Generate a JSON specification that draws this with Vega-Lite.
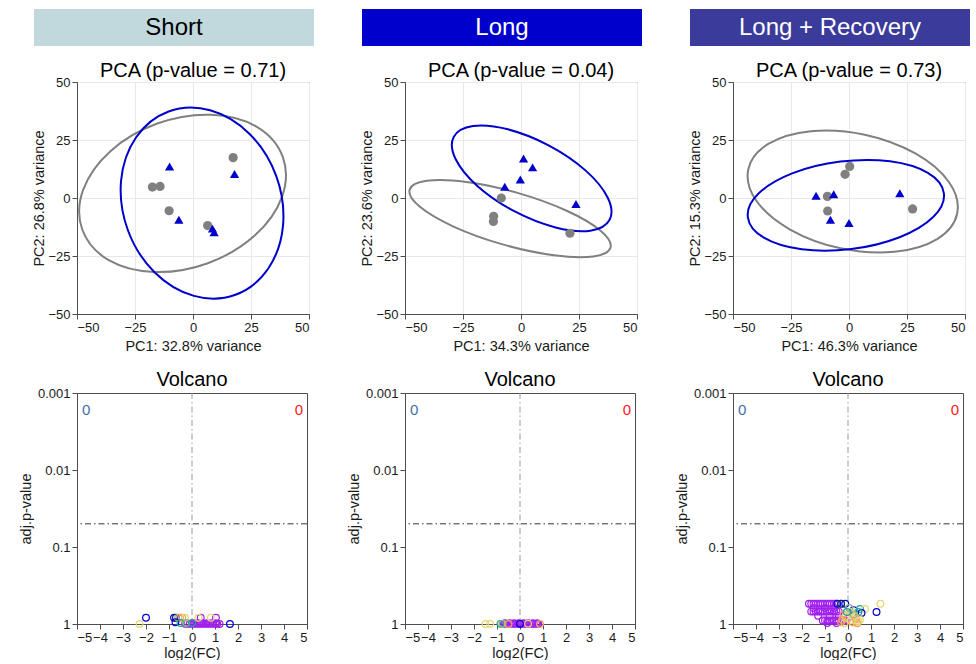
{
  "$schema": "https://vega.github.io/schema/vega-lite/v6.json",
  "background": "white",
  "padding": {"left": 17, "top": 9, "right": 0, "bottom": 0},
  "config": {
    "font": "Liberation Sans",
    "view": {"stroke": "#4d4d4d", "strokeWidth": 1},
    "axis": {"labelFontSize": 13, "titleFontSize": 14.5, "labelColor": "#1a1a1a", "titleColor": "#1a1a1a", "domainColor": "#4d4d4d", "tickColor": "#4d4d4d", "tickSize": 5, "labelPadding": 2, "titleFontWeight": "normal", "gridColor": "#e8e8e8", "titlePadding": 4},
    "title": {"fontSize": 20, "fontWeight": "normal", "color": "#000000", "baseline": "alphabetic"}
  },
  "resolve": {"scale": {"color": "independent"}},
  "datasets": {
    "hdr": [{"period": "Short"}, {"period": "Long"}, {"period": "Long + Recovery"}],
    "pca": [
      {"panel": "S", "grp": "Control", "pc1": -17.5, "pc2": 4.7},
      {"panel": "S", "grp": "Control", "pc1": -14.2, "pc2": 5.0},
      {"panel": "S", "grp": "Control", "pc1": -10.3, "pc2": -5.5},
      {"panel": "S", "grp": "Control", "pc1": 6.3, "pc2": -11.9},
      {"panel": "S", "grp": "Control", "pc1": 17.3, "pc2": 17.4},
      {"panel": "S", "grp": "Treatment", "pc1": -10.1, "pc2": 13.6},
      {"panel": "S", "grp": "Treatment", "pc1": 17.9, "pc2": 10.3},
      {"panel": "S", "grp": "Treatment", "pc1": -6.1, "pc2": -9.4},
      {"panel": "S", "grp": "Treatment", "pc1": 8.4, "pc2": -13.2},
      {"panel": "S", "grp": "Treatment", "pc1": 9.1, "pc2": -14.8},
      {"panel": "L", "grp": "Control", "pc1": -8.5, "pc2": 0.0},
      {"panel": "L", "grp": "Control", "pc1": -11.8, "pc2": -7.9},
      {"panel": "L", "grp": "Control", "pc1": -11.9, "pc2": -10.1},
      {"panel": "L", "grp": "Control", "pc1": 21.1, "pc2": -15.2},
      {"panel": "L", "grp": "Treatment", "pc1": 1.1, "pc2": 17.0},
      {"panel": "L", "grp": "Treatment", "pc1": 5.0, "pc2": 13.2},
      {"panel": "L", "grp": "Treatment", "pc1": -0.3, "pc2": 8.0},
      {"panel": "L", "grp": "Treatment", "pc1": -7.0, "pc2": 4.8},
      {"panel": "L", "grp": "Treatment", "pc1": 23.7, "pc2": -2.6},
      {"panel": "R", "grp": "Control", "pc1": 0.3, "pc2": 13.6},
      {"panel": "R", "grp": "Control", "pc1": -1.7, "pc2": 10.2},
      {"panel": "R", "grp": "Control", "pc1": -9.3, "pc2": 0.7},
      {"panel": "R", "grp": "Control", "pc1": -9.2, "pc2": -5.6},
      {"panel": "R", "grp": "Control", "pc1": 27.4, "pc2": -4.7},
      {"panel": "R", "grp": "Treatment", "pc1": -14.2, "pc2": 1.0},
      {"panel": "R", "grp": "Treatment", "pc1": -6.6, "pc2": 1.6},
      {"panel": "R", "grp": "Treatment", "pc1": -8.0, "pc2": -9.4},
      {"panel": "R", "grp": "Treatment", "pc1": 0.0, "pc2": -10.8},
      {"panel": "R", "grp": "Treatment", "pc1": 21.9, "pc2": 2.0}
    ],
    "ell": [
      {"panel": "S", "grp": "Control", "i": 0, "pc1": 38.7, "pc2": 17.7},
      {"panel": "S", "grp": "Control", "i": 1, "pc1": 27.5, "pc2": 30.7},
      {"panel": "S", "grp": "Control", "i": 2, "pc1": 7.7, "pc2": 35.9},
      {"panel": "S", "grp": "Control", "i": 3, "pc1": -15.4, "pc2": 32.1},
      {"panel": "S", "grp": "Control", "i": 4, "pc1": -35.6, "pc2": 20.2},
      {"panel": "S", "grp": "Control", "i": 5, "pc1": -47.4, "pc2": 3.4},
      {"panel": "S", "grp": "Control", "i": 6, "pc1": -47.7, "pc2": -13.7},
      {"panel": "S", "grp": "Control", "i": 7, "pc1": -36.5, "pc2": -26.7},
      {"panel": "S", "grp": "Control", "i": 8, "pc1": -16.7, "pc2": -31.9},
      {"panel": "S", "grp": "Control", "i": 9, "pc1": 6.4, "pc2": -28.1},
      {"panel": "S", "grp": "Control", "i": 10, "pc1": 26.6, "pc2": -16.2},
      {"panel": "S", "grp": "Control", "i": 11, "pc1": 38.4, "pc2": 0.6},
      {"panel": "S", "grp": "Treatment", "i": 0, "pc1": -10.5, "pc2": 37.3},
      {"panel": "S", "grp": "Treatment", "i": 1, "pc1": -24.5, "pc2": 26.2},
      {"panel": "S", "grp": "Treatment", "i": 2, "pc1": -31.0, "pc2": 7.5},
      {"panel": "S", "grp": "Treatment", "i": 3, "pc1": -28.1, "pc2": -13.8},
      {"panel": "S", "grp": "Treatment", "i": 4, "pc1": -16.6, "pc2": -32.0},
      {"panel": "S", "grp": "Treatment", "i": 5, "pc1": 0.4, "pc2": -42.2},
      {"panel": "S", "grp": "Treatment", "i": 6, "pc1": 18.3, "pc2": -41.7},
      {"panel": "S", "grp": "Treatment", "i": 7, "pc1": 32.3, "pc2": -30.6},
      {"panel": "S", "grp": "Treatment", "i": 8, "pc1": 38.8, "pc2": -11.9},
      {"panel": "S", "grp": "Treatment", "i": 9, "pc1": 35.9, "pc2": 9.4},
      {"panel": "S", "grp": "Treatment", "i": 10, "pc1": 24.4, "pc2": 27.6},
      {"panel": "S", "grp": "Treatment", "i": 11, "pc1": 7.4, "pc2": 37.8},
      {"panel": "L", "grp": "Control", "i": 0, "pc1": 38.6, "pc2": -21.3},
      {"panel": "L", "grp": "Control", "i": 1, "pc1": 34.3, "pc2": -14.1},
      {"panel": "L", "grp": "Control", "i": 2, "pc1": 19.7, "pc2": -5.5},
      {"panel": "L", "grp": "Control", "i": 3, "pc1": -1.5, "pc2": 2.2},
      {"panel": "L", "grp": "Control", "i": 4, "pc1": -23.6, "pc2": 6.9},
      {"panel": "L", "grp": "Control", "i": 5, "pc1": -40.6, "pc2": 7.4},
      {"panel": "L", "grp": "Control", "i": 6, "pc1": -48.0, "pc2": 3.5},
      {"panel": "L", "grp": "Control", "i": 7, "pc1": -43.7, "pc2": -3.7},
      {"panel": "L", "grp": "Control", "i": 8, "pc1": -29.1, "pc2": -12.3},
      {"panel": "L", "grp": "Control", "i": 9, "pc1": -7.9, "pc2": -20.0},
      {"panel": "L", "grp": "Control", "i": 10, "pc1": 14.2, "pc2": -24.7},
      {"panel": "L", "grp": "Control", "i": 11, "pc1": 31.2, "pc2": -25.2},
      {"panel": "L", "grp": "Treatment", "i": 0, "pc1": 38.2, "pc2": -9.4},
      {"panel": "L", "grp": "Treatment", "i": 1, "pc1": 37.4, "pc2": 0.1},
      {"panel": "L", "grp": "Treatment", "i": 2, "pc1": 27.9, "pc2": 11.8},
      {"panel": "L", "grp": "Treatment", "i": 3, "pc1": 12.1, "pc2": 22.6},
      {"panel": "L", "grp": "Treatment", "i": 4, "pc1": -5.7, "pc2": 29.6},
      {"panel": "L", "grp": "Treatment", "i": 5, "pc1": -20.7, "pc2": 31.0},
      {"panel": "L", "grp": "Treatment", "i": 6, "pc1": -29.0, "pc2": 26.3},
      {"panel": "L", "grp": "Treatment", "i": 7, "pc1": -28.2, "pc2": 16.8},
      {"panel": "L", "grp": "Treatment", "i": 8, "pc1": -18.7, "pc2": 5.1},
      {"panel": "L", "grp": "Treatment", "i": 9, "pc1": -2.9, "pc2": -5.7},
      {"panel": "L", "grp": "Treatment", "i": 10, "pc1": 14.9, "pc2": -12.7},
      {"panel": "L", "grp": "Treatment", "i": 11, "pc1": 29.9, "pc2": -14.1},
      {"panel": "R", "grp": "Control", "i": 0, "pc1": 46.6, "pc2": -6.8},
      {"panel": "R", "grp": "Control", "i": 1, "pc1": 43.2, "pc2": 6.7},
      {"panel": "R", "grp": "Control", "i": 2, "pc1": 28.6, "pc2": 19.2},
      {"panel": "R", "grp": "Control", "i": 3, "pc1": 6.8, "pc2": 27.3},
      {"panel": "R", "grp": "Control", "i": 4, "pc1": -16.4, "pc2": 28.8},
      {"panel": "R", "grp": "Control", "i": 5, "pc1": -34.8, "pc2": 23.3},
      {"panel": "R", "grp": "Control", "i": 6, "pc1": -43.4, "pc2": 12.4},
      {"panel": "R", "grp": "Control", "i": 7, "pc1": -40.0, "pc2": -1.1},
      {"panel": "R", "grp": "Control", "i": 8, "pc1": -25.4, "pc2": -13.6},
      {"panel": "R", "grp": "Control", "i": 9, "pc1": -3.6, "pc2": -21.7},
      {"panel": "R", "grp": "Control", "i": 10, "pc1": 19.6, "pc2": -23.2},
      {"panel": "R", "grp": "Control", "i": 11, "pc1": 38.0, "pc2": -17.7},
      {"panel": "R", "grp": "Treatment", "i": 0, "pc1": 40.9, "pc2": 2.0},
      {"panel": "R", "grp": "Treatment", "i": 1, "pc1": 34.0, "pc2": 10.8},
      {"panel": "R", "grp": "Treatment", "i": 2, "pc1": 17.7, "pc2": 15.8},
      {"panel": "R", "grp": "Treatment", "i": 3, "pc1": -3.7, "pc2": 15.7},
      {"panel": "R", "grp": "Treatment", "i": 4, "pc1": -24.5, "pc2": 10.6},
      {"panel": "R", "grp": "Treatment", "i": 5, "pc1": -39.1, "pc2": 1.8},
      {"panel": "R", "grp": "Treatment", "i": 6, "pc1": -43.6, "pc2": -8.3},
      {"panel": "R", "grp": "Treatment", "i": 7, "pc1": -36.7, "pc2": -17.1},
      {"panel": "R", "grp": "Treatment", "i": 8, "pc1": -20.4, "pc2": -22.1},
      {"panel": "R", "grp": "Treatment", "i": 9, "pc1": 1.0, "pc2": -22.0},
      {"panel": "R", "grp": "Treatment", "i": 10, "pc1": 21.8, "pc2": -16.9},
      {"panel": "R", "grp": "Treatment", "i": 11, "pc1": 36.4, "pc2": -8.1}
    ],
    "vol": [
      {"panel": "S", "mod": "m1", "lfc": -0.3, "padj": 0.995},
      {"panel": "S", "mod": "m1", "lfc": -0.2, "padj": 0.995},
      {"panel": "S", "mod": "m1", "lfc": -0.1, "padj": 0.995},
      {"panel": "S", "mod": "m1", "lfc": 0.0, "padj": 0.995},
      {"panel": "S", "mod": "m1", "lfc": 0.1, "padj": 0.995},
      {"panel": "S", "mod": "m1", "lfc": 0.2, "padj": 0.995},
      {"panel": "S", "mod": "m1", "lfc": 0.3, "padj": 0.995},
      {"panel": "S", "mod": "m1", "lfc": 0.4, "padj": 0.995},
      {"panel": "S", "mod": "m1", "lfc": 0.5, "padj": 0.995},
      {"panel": "S", "mod": "m1", "lfc": 0.6, "padj": 0.995},
      {"panel": "S", "mod": "m1", "lfc": 0.7, "padj": 0.995},
      {"panel": "S", "mod": "m1", "lfc": 0.8, "padj": 0.995},
      {"panel": "S", "mod": "m1", "lfc": 0.9, "padj": 0.995},
      {"panel": "S", "mod": "m1", "lfc": 1.0, "padj": 0.995},
      {"panel": "S", "mod": "m1", "lfc": 1.1, "padj": 0.995},
      {"panel": "S", "mod": "m1", "lfc": 0.05, "padj": 0.975},
      {"panel": "S", "mod": "m1", "lfc": 0.25, "padj": 0.975},
      {"panel": "S", "mod": "m1", "lfc": 0.45, "padj": 0.975},
      {"panel": "S", "mod": "m1", "lfc": 0.65, "padj": 0.975},
      {"panel": "S", "mod": "m1", "lfc": 0.85, "padj": 0.975},
      {"panel": "S", "mod": "m1", "lfc": 1.05, "padj": 0.975},
      {"panel": "S", "mod": "m1", "lfc": 1.2, "padj": 1.0},
      {"panel": "S", "mod": "m1", "lfc": 0.38, "padj": 0.83},
      {"panel": "S", "mod": "m1", "lfc": 1.04, "padj": 0.83},
      {"panel": "S", "mod": "m2", "lfc": -2.0, "padj": 0.83},
      {"panel": "S", "mod": "m3", "lfc": -2.28, "padj": 1.0},
      {"panel": "S", "mod": "m2", "lfc": -0.78, "padj": 0.83},
      {"panel": "S", "mod": "m7", "lfc": -0.7, "padj": 0.83},
      {"panel": "S", "mod": "m5", "lfc": -0.6, "padj": 0.83},
      {"panel": "S", "mod": "m4", "lfc": -0.52, "padj": 0.83},
      {"panel": "S", "mod": "m4", "lfc": -0.42, "padj": 0.83},
      {"panel": "S", "mod": "m3", "lfc": -0.3, "padj": 0.83},
      {"panel": "S", "mod": "m2", "lfc": -0.72, "padj": 0.95},
      {"panel": "S", "mod": "m6", "lfc": -0.5, "padj": 0.97},
      {"panel": "S", "mod": "m5", "lfc": -0.25, "padj": 0.97},
      {"panel": "S", "mod": "m6", "lfc": 0.0, "padj": 0.97},
      {"panel": "S", "mod": "m3", "lfc": 0.28, "padj": 0.83},
      {"panel": "S", "mod": "m3", "lfc": 0.82, "padj": 0.83},
      {"panel": "S", "mod": "m2", "lfc": 1.65, "padj": 1.0},
      {"panel": "L", "mod": "m1", "lfc": -0.7, "padj": 0.995},
      {"panel": "L", "mod": "m1", "lfc": -0.6, "padj": 0.995},
      {"panel": "L", "mod": "m1", "lfc": -0.5, "padj": 0.995},
      {"panel": "L", "mod": "m1", "lfc": -0.4, "padj": 0.995},
      {"panel": "L", "mod": "m1", "lfc": -0.3, "padj": 0.995},
      {"panel": "L", "mod": "m1", "lfc": -0.2, "padj": 0.995},
      {"panel": "L", "mod": "m1", "lfc": -0.1, "padj": 0.995},
      {"panel": "L", "mod": "m1", "lfc": 0.0, "padj": 0.995},
      {"panel": "L", "mod": "m1", "lfc": 0.1, "padj": 0.995},
      {"panel": "L", "mod": "m1", "lfc": 0.2, "padj": 0.995},
      {"panel": "L", "mod": "m1", "lfc": 0.3, "padj": 0.995},
      {"panel": "L", "mod": "m1", "lfc": 0.4, "padj": 0.995},
      {"panel": "L", "mod": "m1", "lfc": 0.5, "padj": 0.995},
      {"panel": "L", "mod": "m1", "lfc": 0.6, "padj": 0.995},
      {"panel": "L", "mod": "m1", "lfc": 0.7, "padj": 0.995},
      {"panel": "L", "mod": "m1", "lfc": 0.8, "padj": 0.995},
      {"panel": "L", "mod": "m1", "lfc": -0.65, "padj": 0.98},
      {"panel": "L", "mod": "m1", "lfc": -0.45, "padj": 0.98},
      {"panel": "L", "mod": "m1", "lfc": -0.25, "padj": 0.98},
      {"panel": "L", "mod": "m1", "lfc": -0.05, "padj": 0.98},
      {"panel": "L", "mod": "m1", "lfc": 0.15, "padj": 0.98},
      {"panel": "L", "mod": "m1", "lfc": 0.35, "padj": 0.98},
      {"panel": "L", "mod": "m1", "lfc": 0.55, "padj": 0.98},
      {"panel": "L", "mod": "m1", "lfc": 0.75, "padj": 0.98},
      {"panel": "L", "mod": "m3", "lfc": -1.5, "padj": 1.0},
      {"panel": "L", "mod": "m3", "lfc": -1.3, "padj": 1.0},
      {"panel": "L", "mod": "m3", "lfc": -0.8, "padj": 0.995},
      {"panel": "L", "mod": "m6", "lfc": -0.85, "padj": 0.995},
      {"panel": "L", "mod": "m5", "lfc": -0.75, "padj": 0.99},
      {"panel": "L", "mod": "m2", "lfc": 0.0, "padj": 0.995},
      {"panel": "L", "mod": "m4", "lfc": 0.87, "padj": 1.0},
      {"panel": "L", "mod": "m4", "lfc": -0.5, "padj": 1.0},
      {"panel": "L", "mod": "m3", "lfc": 0.35, "padj": 0.99},
      {"panel": "R", "mod": "m1", "lfc": -1.7, "padj": 0.545},
      {"panel": "R", "mod": "m1", "lfc": -1.6, "padj": 0.545},
      {"panel": "R", "mod": "m1", "lfc": -1.5, "padj": 0.545},
      {"panel": "R", "mod": "m1", "lfc": -1.4, "padj": 0.545},
      {"panel": "R", "mod": "m1", "lfc": -1.3, "padj": 0.545},
      {"panel": "R", "mod": "m1", "lfc": -1.2, "padj": 0.545},
      {"panel": "R", "mod": "m1", "lfc": -1.1, "padj": 0.545},
      {"panel": "R", "mod": "m1", "lfc": -1.0, "padj": 0.545},
      {"panel": "R", "mod": "m1", "lfc": -0.9, "padj": 0.545},
      {"panel": "R", "mod": "m1", "lfc": -0.8, "padj": 0.545},
      {"panel": "R", "mod": "m1", "lfc": -0.7, "padj": 0.545},
      {"panel": "R", "mod": "m1", "lfc": -0.6, "padj": 0.545},
      {"panel": "R", "mod": "m1", "lfc": -0.5, "padj": 0.545},
      {"panel": "R", "mod": "m1", "lfc": -1.5, "padj": 0.62},
      {"panel": "R", "mod": "m1", "lfc": -1.0, "padj": 0.62},
      {"panel": "R", "mod": "m1", "lfc": -0.6, "padj": 0.62},
      {"panel": "R", "mod": "m1", "lfc": -1.6, "padj": 0.69},
      {"panel": "R", "mod": "m1", "lfc": -1.5, "padj": 0.69},
      {"panel": "R", "mod": "m1", "lfc": -1.4, "padj": 0.69},
      {"panel": "R", "mod": "m1", "lfc": -1.3, "padj": 0.69},
      {"panel": "R", "mod": "m1", "lfc": -1.2, "padj": 0.69},
      {"panel": "R", "mod": "m1", "lfc": -1.1, "padj": 0.69},
      {"panel": "R", "mod": "m1", "lfc": -1.0, "padj": 0.69},
      {"panel": "R", "mod": "m1", "lfc": -0.9, "padj": 0.69},
      {"panel": "R", "mod": "m1", "lfc": -0.8, "padj": 0.69},
      {"panel": "R", "mod": "m1", "lfc": -0.7, "padj": 0.69},
      {"panel": "R", "mod": "m1", "lfc": -0.6, "padj": 0.69},
      {"panel": "R", "mod": "m1", "lfc": -0.5, "padj": 0.69},
      {"panel": "R", "mod": "m1", "lfc": -0.4, "padj": 0.69},
      {"panel": "R", "mod": "m1", "lfc": -1.3, "padj": 0.78},
      {"panel": "R", "mod": "m1", "lfc": -0.8, "padj": 0.78},
      {"panel": "R", "mod": "m1", "lfc": -0.4, "padj": 0.78},
      {"panel": "R", "mod": "m1", "lfc": -1.1, "padj": 0.9},
      {"panel": "R", "mod": "m1", "lfc": -1.0, "padj": 0.9},
      {"panel": "R", "mod": "m1", "lfc": -0.9, "padj": 0.9},
      {"panel": "R", "mod": "m1", "lfc": -0.8, "padj": 0.9},
      {"panel": "R", "mod": "m1", "lfc": -0.7, "padj": 0.9},
      {"panel": "R", "mod": "m1", "lfc": -0.6, "padj": 0.9},
      {"panel": "R", "mod": "m1", "lfc": -0.5, "padj": 0.9},
      {"panel": "R", "mod": "m1", "lfc": -0.4, "padj": 0.9},
      {"panel": "R", "mod": "m1", "lfc": -0.3, "padj": 0.9},
      {"panel": "R", "mod": "m1", "lfc": -0.2, "padj": 0.9},
      {"panel": "R", "mod": "m1", "lfc": -0.1, "padj": 0.9},
      {"panel": "R", "mod": "m1", "lfc": -0.9, "padj": 0.97},
      {"panel": "R", "mod": "m1", "lfc": -0.5, "padj": 0.97},
      {"panel": "R", "mod": "m2", "lfc": -0.46, "padj": 0.545},
      {"panel": "R", "mod": "m6", "lfc": -0.3, "padj": 0.545},
      {"panel": "R", "mod": "m2", "lfc": -0.12, "padj": 0.545},
      {"panel": "R", "mod": "m2", "lfc": 0.24, "padj": 0.66},
      {"panel": "R", "mod": "m6", "lfc": 0.52, "padj": 0.64},
      {"panel": "R", "mod": "m3", "lfc": 0.74, "padj": 0.64},
      {"panel": "R", "mod": "m2", "lfc": 0.59, "padj": 0.72},
      {"panel": "R", "mod": "m6", "lfc": 0.45, "padj": 0.7},
      {"panel": "R", "mod": "m2", "lfc": 1.24, "padj": 0.7},
      {"panel": "R", "mod": "m3", "lfc": 1.41, "padj": 0.545},
      {"panel": "R", "mod": "m3", "lfc": 0.52, "padj": 0.88},
      {"panel": "R", "mod": "m3", "lfc": 0.35, "padj": 0.95},
      {"panel": "R", "mod": "m4", "lfc": -0.2, "padj": 0.75},
      {"panel": "R", "mod": "m3", "lfc": -0.1, "padj": 0.8},
      {"panel": "R", "mod": "m4", "lfc": 0.0, "padj": 0.85},
      {"panel": "R", "mod": "m3", "lfc": 0.1, "padj": 0.9},
      {"panel": "R", "mod": "m4", "lfc": 0.2, "padj": 0.95},
      {"panel": "R", "mod": "m3", "lfc": 0.3, "padj": 0.8},
      {"panel": "R", "mod": "m4", "lfc": -0.3, "padj": 0.95},
      {"panel": "R", "mod": "m3", "lfc": 0.15, "padj": 0.7},
      {"panel": "R", "mod": "m4", "lfc": 0.4, "padj": 0.98},
      {"panel": "R", "mod": "m3", "lfc": -0.15, "padj": 0.98},
      {"panel": "R", "mod": "m5", "lfc": 0.05, "padj": 0.62},
      {"panel": "R", "mod": "m5", "lfc": 0.25, "padj": 0.75},
      {"panel": "R", "mod": "m6", "lfc": -0.05, "padj": 0.7},
      {"panel": "R", "mod": "m4", "lfc": 0.35, "padj": 0.86},
      {"panel": "R", "mod": "m3", "lfc": 0.45, "padj": 0.92},
      {"panel": "R", "mod": "m4", "lfc": -0.25, "padj": 0.88},
      {"panel": "R", "mod": "m7", "lfc": -0.3, "padj": 0.545}
    ],
    "thr": [{"padj": 0.05, "lfc": 0}],
    "cnt": [
      {"side": "down", "lfc": -4.6, "padj": 0.00166, "n": 0},
      {"side": "up", "lfc": 4.65, "padj": 0.00166, "n": 0}
    ]
  },
  "spacing": 14,
  "vconcat": [
    {
      "width": 893,
      "height": 37,
      "view": {"stroke": null},
      "data": {"name": "hdr"},
      "encoding": {
        "x": {"field": "period", "type": "nominal", "sort": null, "axis": null,
          "scale": {"range": [-43, 893], "paddingInner": 0.14634, "paddingOuter": 0}}
      },
      "layer": [
        {"mark": {"type": "rect"},
         "encoding": {"color": {"field": "period", "type": "nominal", "legend": null,
           "scale": {"domain": ["Short", "Long", "Long + Recovery"], "range": ["#c1d8dd", "#0000cd", "#3b3b9b"]}}}},
        {"mark": {"type": "text", "fontSize": 24, "baseline": "middle"},
         "encoding": {"text": {"field": "period"},
           "color": {"condition": {"test": "datum.period === 'Short'", "value": "#000000"}, "value": "#ffffff"}}}
      ]
    },
    {
      "columns": 3,
      "bounds": "flush",
      "spacing": {"row": 79, "column": 96},
      "resolve": {"scale": {"color": "independent", "shape": "independent"}},
      "concat": [
        {
          "width": 232, "height": 232,
          "title": {"text": "PCA (p-value = 0.71)", "offset": -5},
          "encoding": {
            "x": {"field": "pc1", "type": "quantitative", "scale": {"domain": [-50, 50], "nice": false}, "axis": {"title": "PC1: 32.8% variance", "values": [-50, -25, 0, 25, 50], "titlePadding": 5}},
            "y": {"field": "pc2", "type": "quantitative", "scale": {"domain": [-50, 50], "nice": false}, "axis": {"title": "PC2: 26.8% variance", "values": [-50, -25, 0, 25, 50], "titlePadding": 1}},
            "color": {"field": "grp", "type": "nominal", "legend": null, "scale": {"domain": ["Control", "Treatment"], "range": ["#808080", "#0000cd"]}}
          },
          "layer": [
            {"data": {"name": "ell"}, "transform": [{"filter": "datum.panel === 'S'"}],
             "mark": {"type": "line", "interpolate": "cardinal-closed", "strokeWidth": 2},
             "encoding": {"order": {"field": "i", "type": "quantitative"}}},
            {"data": {"name": "pca"}, "transform": [{"filter": "datum.panel === 'S'"}],
             "mark": {"type": "point", "filled": true, "opacity": 1, "size": 85},
             "encoding": {"shape": {"field": "grp", "type": "nominal", "legend": null, "scale": {"domain": ["Control", "Treatment"], "range": ["circle", "triangle-up"]}}}}
          ]
        },
        {
          "width": 232, "height": 232,
          "title": {"text": "PCA (p-value = 0.04)", "offset": -5},
          "encoding": {
            "x": {"field": "pc1", "type": "quantitative", "scale": {"domain": [-50, 50], "nice": false}, "axis": {"title": "PC1: 34.3% variance", "values": [-50, -25, 0, 25, 50], "titlePadding": 5}},
            "y": {"field": "pc2", "type": "quantitative", "scale": {"domain": [-50, 50], "nice": false}, "axis": {"title": "PC2: 23.6% variance", "values": [-50, -25, 0, 25, 50], "titlePadding": 1}},
            "color": {"field": "grp", "type": "nominal", "legend": null, "scale": {"domain": ["Control", "Treatment"], "range": ["#808080", "#0000cd"]}}
          },
          "layer": [
            {"data": {"name": "ell"}, "transform": [{"filter": "datum.panel === 'L'"}],
             "mark": {"type": "line", "interpolate": "cardinal-closed", "strokeWidth": 2},
             "encoding": {"order": {"field": "i", "type": "quantitative"}}},
            {"data": {"name": "pca"}, "transform": [{"filter": "datum.panel === 'L'"}],
             "mark": {"type": "point", "filled": true, "opacity": 1, "size": 85},
             "encoding": {"shape": {"field": "grp", "type": "nominal", "legend": null, "scale": {"domain": ["Control", "Treatment"], "range": ["circle", "triangle-up"]}}}}
          ]
        },
        {
          "width": 232, "height": 232,
          "title": {"text": "PCA (p-value = 0.73)", "offset": -5},
          "encoding": {
            "x": {"field": "pc1", "type": "quantitative", "scale": {"domain": [-50, 50], "nice": false}, "axis": {"title": "PC1: 46.3% variance", "values": [-50, -25, 0, 25, 50], "titlePadding": 5}},
            "y": {"field": "pc2", "type": "quantitative", "scale": {"domain": [-50, 50], "nice": false}, "axis": {"title": "PC2: 15.3% variance", "values": [-50, -25, 0, 25, 50], "titlePadding": 1}},
            "color": {"field": "grp", "type": "nominal", "legend": null, "scale": {"domain": ["Control", "Treatment"], "range": ["#808080", "#0000cd"]}}
          },
          "layer": [
            {"data": {"name": "ell"}, "transform": [{"filter": "datum.panel === 'R'"}],
             "mark": {"type": "line", "interpolate": "cardinal-closed", "strokeWidth": 2},
             "encoding": {"order": {"field": "i", "type": "quantitative"}}},
            {"data": {"name": "pca"}, "transform": [{"filter": "datum.panel === 'R'"}],
             "mark": {"type": "point", "filled": true, "opacity": 1, "size": 85},
             "encoding": {"shape": {"field": "grp", "type": "nominal", "legend": null, "scale": {"domain": ["Control", "Treatment"], "range": ["circle", "triangle-up"]}}}}
          ]
        },
        {
          "width": 230, "height": 231,
          "title": {"text": "Volcano", "offset": -3},
          "encoding": {
            "x": {"field": "lfc", "type": "quantitative", "scale": {"domain": [-5, 5], "nice": false}, "axis": {"title": "log2(FC)", "values": [-5, -4, -3, -2, -1, 0, 1, 2, 3, 4, 5], "grid": false, "titlePadding": 2}},
            "y": {"field": "padj", "type": "quantitative", "scale": {"type": "log", "domain": [0.001, 1], "reverse": true, "nice": false}, "axis": {"title": "adj.p-value", "values": [0.001, 0.01, 0.1, 1], "format": ".3~f", "grid": false}}
          },
          "layer": [
            {"data": {"name": "thr"}, "mark": {"type": "rule", "color": "#333333", "strokeDash": [6, 3, 1.5, 3], "strokeWidth": 1}, "encoding": {"x": null}},
            {"data": {"name": "thr"}, "mark": {"type": "rule", "color": "#999999", "strokeDash": [6, 3, 1.5, 3], "strokeWidth": 1}, "encoding": {"y": null}},
            {"data": {"name": "vol"}, "transform": [{"filter": "datum.panel === 'S'"}],
             "mark": {"type": "point", "filled": false, "size": 45, "strokeWidth": 1.2, "opacity": 1},
             "encoding": {"color": {"field": "mod", "type": "nominal", "legend": null, "scale": {"domain": ["m1", "m2", "m3", "m4", "m5", "m6", "m7"], "range": ["#a020f0", "#0000cd", "#e6d774", "#f4a460", "#7cb87c", "#20a0a0", "#191970"]}}}},
            {"data": {"name": "cnt"}, "mark": {"type": "text", "fontSize": 15},
             "encoding": {"text": {"field": "n"}, "color": {"condition": {"test": "datum.side === 'down'", "value": "#3f6fb5"}, "value": "#ff1a1a"}}}
          ]
        },
        {
          "width": 230, "height": 231,
          "title": {"text": "Volcano", "offset": -3},
          "encoding": {
            "x": {"field": "lfc", "type": "quantitative", "scale": {"domain": [-5, 5], "nice": false}, "axis": {"title": "log2(FC)", "values": [-5, -4, -3, -2, -1, 0, 1, 2, 3, 4, 5], "grid": false, "titlePadding": 2}},
            "y": {"field": "padj", "type": "quantitative", "scale": {"type": "log", "domain": [0.001, 1], "reverse": true, "nice": false}, "axis": {"title": "adj.p-value", "values": [0.001, 0.01, 0.1, 1], "format": ".3~f", "grid": false}}
          },
          "layer": [
            {"data": {"name": "thr"}, "mark": {"type": "rule", "color": "#333333", "strokeDash": [6, 3, 1.5, 3], "strokeWidth": 1}, "encoding": {"x": null}},
            {"data": {"name": "thr"}, "mark": {"type": "rule", "color": "#999999", "strokeDash": [6, 3, 1.5, 3], "strokeWidth": 1}, "encoding": {"y": null}},
            {"data": {"name": "vol"}, "transform": [{"filter": "datum.panel === 'L'"}],
             "mark": {"type": "point", "filled": false, "size": 45, "strokeWidth": 1.2, "opacity": 1},
             "encoding": {"color": {"field": "mod", "type": "nominal", "legend": null, "scale": {"domain": ["m1", "m2", "m3", "m4", "m5", "m6", "m7"], "range": ["#a020f0", "#0000cd", "#e6d774", "#f4a460", "#7cb87c", "#20a0a0", "#191970"]}}}},
            {"data": {"name": "cnt"}, "mark": {"type": "text", "fontSize": 15},
             "encoding": {"text": {"field": "n"}, "color": {"condition": {"test": "datum.side === 'down'", "value": "#3f6fb5"}, "value": "#ff1a1a"}}}
          ]
        },
        {
          "width": 230, "height": 231,
          "title": {"text": "Volcano", "offset": -3},
          "encoding": {
            "x": {"field": "lfc", "type": "quantitative", "scale": {"domain": [-5, 5], "nice": false}, "axis": {"title": "log2(FC)", "values": [-5, -4, -3, -2, -1, 0, 1, 2, 3, 4, 5], "grid": false, "titlePadding": 2}},
            "y": {"field": "padj", "type": "quantitative", "scale": {"type": "log", "domain": [0.001, 1], "reverse": true, "nice": false}, "axis": {"title": "adj.p-value", "values": [0.001, 0.01, 0.1, 1], "format": ".3~f", "grid": false}}
          },
          "layer": [
            {"data": {"name": "thr"}, "mark": {"type": "rule", "color": "#333333", "strokeDash": [6, 3, 1.5, 3], "strokeWidth": 1}, "encoding": {"x": null}},
            {"data": {"name": "thr"}, "mark": {"type": "rule", "color": "#999999", "strokeDash": [6, 3, 1.5, 3], "strokeWidth": 1}, "encoding": {"y": null}},
            {"data": {"name": "vol"}, "transform": [{"filter": "datum.panel === 'R'"}],
             "mark": {"type": "point", "filled": false, "size": 45, "strokeWidth": 1.2, "opacity": 1},
             "encoding": {"color": {"field": "mod", "type": "nominal", "legend": null, "scale": {"domain": ["m1", "m2", "m3", "m4", "m5", "m6", "m7"], "range": ["#a020f0", "#0000cd", "#e6d774", "#f4a460", "#7cb87c", "#20a0a0", "#191970"]}}}},
            {"data": {"name": "cnt"}, "mark": {"type": "text", "fontSize": 15},
             "encoding": {"text": {"field": "n"}, "color": {"condition": {"test": "datum.side === 'down'", "value": "#3f6fb5"}, "value": "#ff1a1a"}}}
          ]
        }
      ]
    }
  ]
}
